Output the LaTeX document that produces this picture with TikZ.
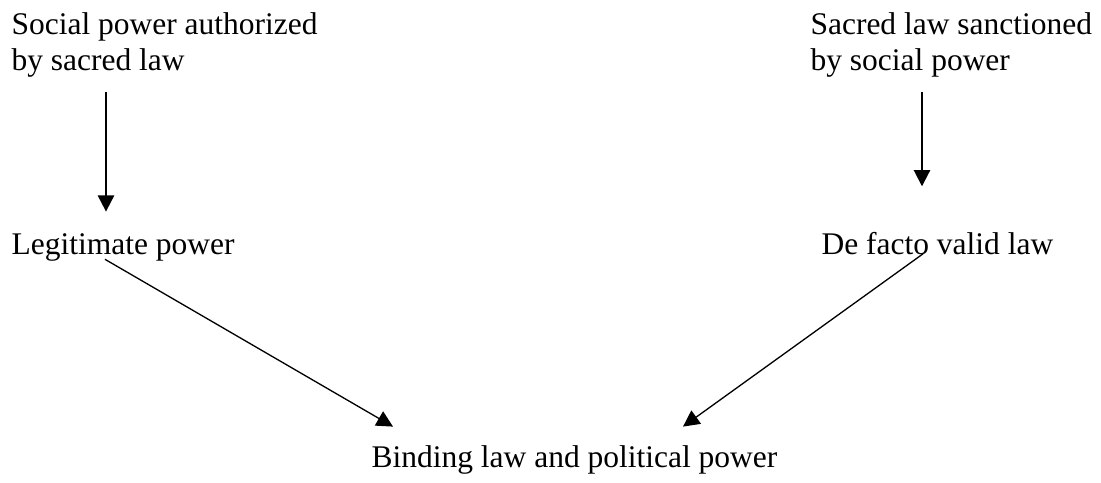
\documentclass[tikz,border=0pt]{standalone}
\usepackage{fontspec}
\setmainfont{Liberation Serif}
\usetikzlibrary{arrows.meta,calc}

\begin{document}
\begin{tikzpicture}[
    x=0.381pt, y=-0.381pt,
    every node/.style={font=\fontsize{12}{13.8}\selectfont, inner sep=0pt, anchor=base west},
    twoline/.style={align=left},
    arrow/.style={-{Triangle[length=6.2pt,width=6.2pt]}, line width=0.75pt, draw=black},
    slant/.style={arrow, line width=0.5pt}
]
\useasboundingbox (0,0) rectangle (1101,483);

% upper row, two sources (base = last line)
\node[twoline] (social) at (11,71) {Social power authorized\\by sacred law};
\node[twoline] (sacred) at (810,71) {Sacred law sanctioned\\by social power};

% middle row
\node (legit) at (11,255) {Legitimate power};
\node (defacto) at (821,255) {De facto valid law};

% result
\node (binding) at (371,468) {Binding law and political power};

\coordinate (lx) at (106,0);
\coordinate (rx) at (922,0);

\draw[arrow] ($(social.south -| lx)+(0,14)$) -- ($(legit.north -| lx)+(0,-22)$);
\draw[arrow] ($(sacred.south -| rx)+(0,14)$) -- ($(defacto.north -| rx)+(0,-46)$);
\draw[slant] ($(legit.south -| lx)+(-1,-3)$) -- ($(binding.north west)+(22,-19)$);
\draw[slant] ($(defacto.south -| rx)+(1,-2)$) -- ($(binding.north west)+(312,-19)$);
\end{tikzpicture}
\end{document}
